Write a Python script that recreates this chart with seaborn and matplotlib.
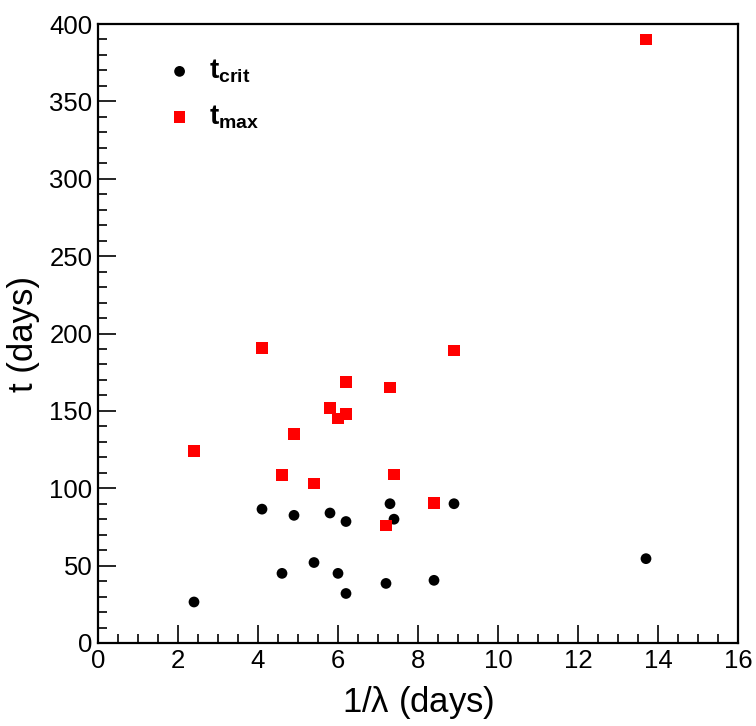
import numpy as np
import pandas as pd
import matplotlib
matplotlib.use("Agg")
import matplotlib.pyplot as plt
import seaborn as sns
from matplotlib.ticker import MultipleLocator

# Data
inv_lambda = [2.4, 4.1, 4.6, 4.9, 5.4, 5.8, 6.0, 6.2, 6.2, 7.3, 7.2, 7.4, 8.4, 8.9, 13.7]
t_crit = [26.5, 86.5, 45, 82.5, 52, 84, 45, 78.5, 32, 90, 38.5, 80, 40.5, 90, 54.5]
t_max = [124, 190.5, 108.5, 135, 103, 152, 145, 168.5, 148, 165, 76, 109, 90.5, 189, 390]
series_labels = [r"$\mathbf{t_{crit}}$", r"$\mathbf{t_{max}}$"]

sns.set_theme(style="white")
plt.rcParams["font.family"] = ["Liberation Sans", "DejaVu Sans"]
plt.rcParams["mathtext.fontset"] = "custom"
plt.rcParams["mathtext.rm"] = "Liberation Sans"
plt.rcParams["mathtext.bf"] = "Liberation Sans:bold"
plt.rcParams["mathtext.it"] = "Liberation Sans:italic"
plt.rcParams["text.color"] = "black"
plt.rcParams["axes.labelcolor"] = "black"
plt.rcParams["xtick.color"] = "black"
plt.rcParams["ytick.color"] = "black"

df_crit = pd.DataFrame({"x": inv_lambda, "y": t_crit})
df_max = pd.DataFrame({"x": inv_lambda, "y": t_max})

fig = plt.figure(figsize=(7.56, 7.26), dpi=100)
ax = fig.add_axes([98 / 756, 1 - 643 / 726, 640 / 756, 619 / 726])

sns.scatterplot(data=df_crit, x="x", y="y", ax=ax, marker="o", color="black",
                s=60, edgecolor="none", label=series_labels[0])
sns.scatterplot(data=df_max, x="x", y="y", ax=ax, marker="s", color="#ff0000",
                s=70, edgecolor="none", label=series_labels[1])

ax.set_xlim(0, 16)
ax.set_ylim(0, 400)
ax.xaxis.set_major_locator(MultipleLocator(2))
ax.xaxis.set_minor_locator(MultipleLocator(0.5))
ax.yaxis.set_major_locator(MultipleLocator(50))
ax.yaxis.set_minor_locator(MultipleLocator(10))
ax.tick_params(which="both", direction="in", top=False, right=False,
               left=True, bottom=True, width=1.2, color="black")
ax.tick_params(which="major", length=13, labelsize=18.5, pad=4)
ax.tick_params(which="minor", length=6.5)
for sp in ax.spines.values():
    sp.set_color("black")
    sp.set_linewidth(1.6)

ax.set_xlabel(r"1/$\mathregular{\lambda}$ (days)", fontsize=25, labelpad=8)
ax.set_ylabel("t (days)", fontsize=25, labelpad=7)

leg = ax.legend(loc="upper left", bbox_to_anchor=(0.045, 0.986), frameon=False,
                fontsize=20, labelspacing=0.65, handletextpad=0.05,
                markerscale=1.0)

fig.savefig("out.png", dpi=100)
